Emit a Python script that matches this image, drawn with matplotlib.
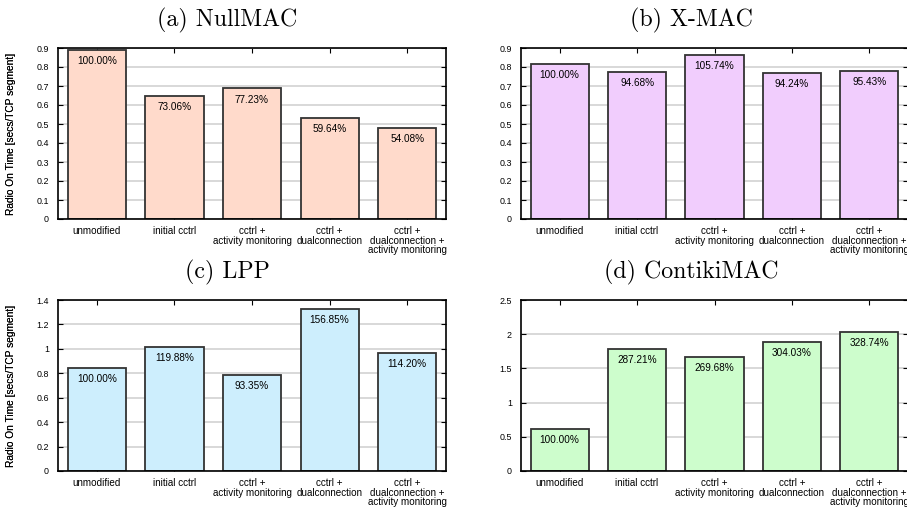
import matplotlib
matplotlib.use("Agg")
import matplotlib.pyplot as plt
from matplotlib.ticker import FormatStrFormatter, MultipleLocator

plt.rcParams['font.family'] = ['Liberation Sans', 'DejaVu Sans']

categories = ["unmodified", "initial cctrl", "cctrl +\nactivity monitoring",
              "cctrl +\ndualconnection", "cctrl +\ndualconnection +\nactivity monitoring"]

titles = ["(a) NullMAC", "(b) X-MAC", "(c) LPP", "(d) ContikiMAC"]

nullmac_vals = [0.889, 0.650, 0.687, 0.530, 0.481]
nullmac_pct = ["100.00%", "73.06%", "77.23%", "59.64%", "54.08%"]

xmac_vals = [0.815, 0.772, 0.862, 0.768, 0.778]
xmac_pct = ["100.00%", "94.68%", "105.74%", "94.24%", "95.43%"]

lpp_vals = [0.845, 1.013, 0.789, 1.325, 0.965]
lpp_pct = ["100.00%", "119.88%", "93.35%", "156.85%", "114.20%"]

contiki_vals = [0.620, 1.781, 1.672, 1.885, 2.038]
contiki_pct = ["100.00%", "287.21%", "269.68%", "304.03%", "328.74%"]

W, H = 907, 508
fig = plt.figure(figsize=(W / 100, H / 100), dpi=100)

def px_axes(left, top, right, bottom):
    return fig.add_axes([left / W, 1 - bottom / H, (right - left) / W, (bottom - top) / H])

panels = [
    # vals, labels, colour, ymax, ystep, box (px), title pos (px)
    (nullmac_vals, nullmac_pct, "#ffdacb", 0.9, 0.1, (58, 48, 446, 219), (227, 20)),
    (xmac_vals, xmac_pct, "#f1cdfd", 0.9, 0.1, (521, 48, 908, 219), (691, 20)),
    (lpp_vals, lpp_pct, "#cdeefd", 1.4, 0.2, (58, 300, 446, 471), (227, 272)),
    (contiki_vals, contiki_pct, "#cdfdcc", 2.5, 0.5, (521, 300, 908, 471), (691, 272)),
]

for i, (vals, pct, col, ymax, step, box, tpos) in enumerate(panels):
    ax = px_axes(*box)
    ax.set_axisbelow(True)
    x = range(len(vals))
    ax.bar(x, vals, width=0.75, color=col, edgecolor="#333333", linewidth=1.3, zorder=2)
    for xi, v, t in zip(x, vals, pct):
        ax.annotate(t, (xi, v), xytext=(0, -8), textcoords="offset points",
                    ha="center", va="center", fontsize=7.2, zorder=3)
    ax.set_xlim(-0.5, len(vals) - 0.5)
    ax.set_ylim(0, ymax)
    ax.yaxis.set_major_locator(MultipleLocator(step))
    ax.yaxis.set_major_formatter(FormatStrFormatter('%g'))
    ax.set_xticks(list(x))
    ax.set_xticklabels(categories, fontsize=7.1, linespacing=0.95)
    ax.tick_params(axis='y', direction='in', length=3.6, width=0.8, labelsize=6.4,
                   pad=6.5, right=True)
    ax.tick_params(axis='x', direction='in', length=3.6, width=0.8, pad=5, top=True)
    ax.grid(axis='y', color="#d2d2d2", linewidth=1.2)
    for s in ax.spines.values():
        s.set_linewidth(1.2)
    ax.set_ylabel("Radio On Time [secs/TCP segment]", fontsize=7.3)
    ax.yaxis.set_label_coords((16 - box[0]) / (box[2] - box[0]), 0.5)
    fig.text(tpos[0] / W, 1 - tpos[1] / H, titles[i], family=['cmr10', 'DejaVu Serif'],
             fontsize=17.2, ha="center", va="center")

fig.savefig("out.png", dpi=100)
